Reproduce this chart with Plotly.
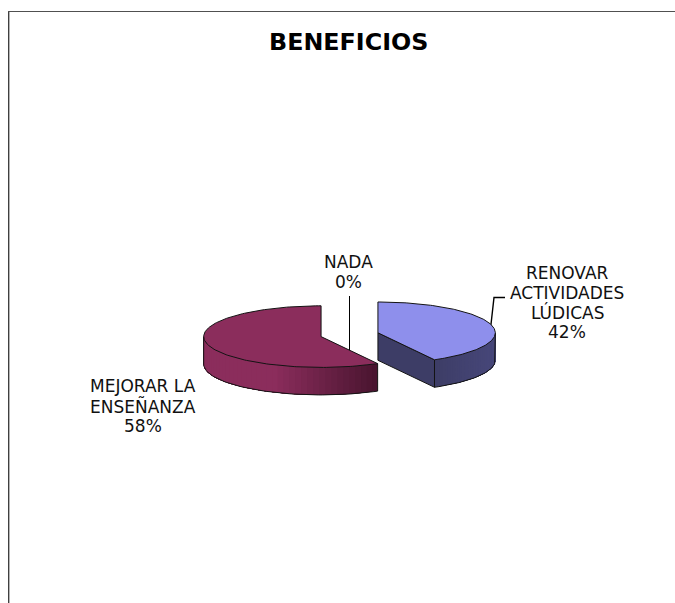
import numpy as np
import plotly.graph_objects as go

# Survey results
categories = ["RENOVAR<br>ACTIVIDADES<br>LÚDICAS", "MEJORAR LA<br>ENSEÑANZA", "NADA"]
values = [42, 58, 0]
chart_title = "BENEFICIOS"

# Slice colours: top face, then wall shading from the light end to the dark end
top_colors = ["#8E8FEC", "#8B2D5C", "#FFFFFF"]
wall_light = ["#47477A", "#8B2D5C", "#FFFFFF"]
wall_dark = ["#3D3D66", "#47142E", "#FFFFFF"]

# Label anchor points, in page pixels
label_x = [567, 143, 348]
label_y = [302.5, 406, 272]

# Projected pie geometry, in page pixels
CX, CY = 349.5, 334.7
RX, RY = 117.4, 30.8
DEPTH = 27.5
EXPLODE = 0.25
W, H = 675, 603
LINE_STEP = 19.8


def rim(theta, cx, cy):
    """Point on the projected rim; theta runs clockwise from 12 o'clock."""
    return cx + RX * np.sin(theta), cy - RY * np.cos(theta)


def poly(xs, ys, fill, line=None, width=0.0):
    return go.Scatter(
        x=list(xs), y=list(ys), mode="lines", fill="toself", fillcolor=fill,
        line=dict(color=line or fill, width=width),
        hoverinfo="skip", showlegend=False,
    )


def mix(c1, c2, t):
    a = np.array([int(c1[i:i + 2], 16) for i in (1, 3, 5)], dtype=float)
    b = np.array([int(c2[i:i + 2], 16) for i in (1, 3, 5)], dtype=float)
    r = a + (b - a) * t
    return "rgb({:.0f},{:.0f},{:.0f})".format(*r)


fig = go.Figure()
edge = "#141414"
total = sum(values)
start = 0.0

for i, v in enumerate(values):
    sweep = 2 * np.pi * v / total
    end = start + sweep
    if v > 0:
        mid = (start + end) / 2
        cx = CX + EXPLODE * RX * np.sin(mid)
        cy = CY - EXPLODE * RY * np.cos(mid)

        # Outer wall: only the part of the rim facing the viewer.
        # Each band runs on to the far end of the wall, so the next one paints over it
        # and no seams show between bands.
        lo, hi = max(start, np.pi / 2), min(end, 3 * np.pi / 2)
        if hi > lo:
            n = 40
            th = np.linspace(lo, hi, n + 1)
            if i == 1:
                order = list(range(n))
            else:
                order = list(range(n - 1, -1, -1))
            for k in order:
                # Shade by horizontal position: darkest towards the right of the pie
                u = (np.sin((th[k] + th[k + 1]) / 2) + 1) / 2
                if i == 0:
                    t = 1 - (u - 0.74) / 0.26
                else:
                    t = np.clip((u - 0.3) / 0.45, 0, 1)
                col = mix(wall_light[i], wall_dark[i], float(np.clip(t, 0, 1)))
                band = np.linspace(th[k], hi, 30) if i == 1 else np.linspace(lo, th[k + 1], 30)
                bx, by = rim(band, cx, cy)
                fig.add_trace(poly(np.r_[bx, bx[::-1], bx[0]],
                                   np.r_[by, by[::-1] + DEPTH, by[0]], col))
            wx, wy = rim(np.linspace(lo, hi, 60), cx, cy)
            fig.add_trace(go.Scatter(
                x=np.r_[wx[0], wx, wx[-1]], y=np.r_[wy[0], wy + DEPTH, wy[-1]],
                mode="lines", line=dict(color=edge, width=1),
                hoverinfo="skip", showlegend=False))

        # Cut face that looks towards the viewer, on the trailing side of the first slice
        if i == 0:
            ex, ey = rim(end, cx, cy)
            fig.add_trace(poly([cx, ex, ex, cx, cx],
                               [cy, ey, ey + DEPTH, cy + DEPTH, cy],
                               wall_dark[i], edge, 1))

        # Top face
        th = np.linspace(start, end, 160)
        tx, ty = rim(th, cx, cy)
        fig.add_trace(poly(np.r_[cx, tx, cx], np.r_[cy, ty, cy],
                           top_colors[i], edge, 1))
    start = end

# Chart frame and leader lines sit under the pie
shapes = [
    dict(type="line", x0=8.5, x1=8.5, y0=11, y1=H, line=dict(color="#404040", width=1)),
    dict(type="line", x0=9.5, x1=9.5, y0=12, y1=H, line=dict(color="#B4B4B4", width=1)),
    dict(type="line", x0=8, x1=W, y0=11.5, y1=11.5, line=dict(color="#505050", width=1)),
    dict(type="line", x0=349.5, x1=349.5, y0=296, y1=355, layer="below",
         line=dict(color="#000000", width=1)),
    dict(type="path", path="M 490.7 327 L 494 297.5 L 505 297.5", layer="below",
         line=dict(color="#000000", width=1.4)),
]

annotations = [
    dict(x=348.5, y=42, text=f"<b>{chart_title}</b>", showarrow=False,
         font=dict(family="DejaVu Sans", size=23.8, color="#000000"),
         xanchor="center", yanchor="middle")
]
# Label lines are placed one by one to hold a tight line spacing
for name, v, x, y in zip(categories, values, label_x, label_y):
    lines = name.split("<br>") + [f"{v}%"]
    top = y - LINE_STEP * (len(lines) - 1) / 2
    for j, text in enumerate(lines):
        annotations.append(dict(
            x=x, y=top + j * LINE_STEP, text=text, showarrow=False, align="center",
            font=dict(family="DejaVu Sans", size=17, color="#111111"),
            xanchor="center", yanchor="middle"))

fig.update_layout(
    width=W, height=H, margin=dict(l=0, r=0, t=0, b=0),
    paper_bgcolor="#FFFFFF", plot_bgcolor="#FFFFFF", showlegend=False,
    xaxis=dict(range=[0, W], visible=False, fixedrange=True),
    yaxis=dict(range=[H, 0], visible=False, fixedrange=True),
    shapes=shapes, annotations=annotations,
)

fig.write_html("out.html", config={"displayModeBar": False})
